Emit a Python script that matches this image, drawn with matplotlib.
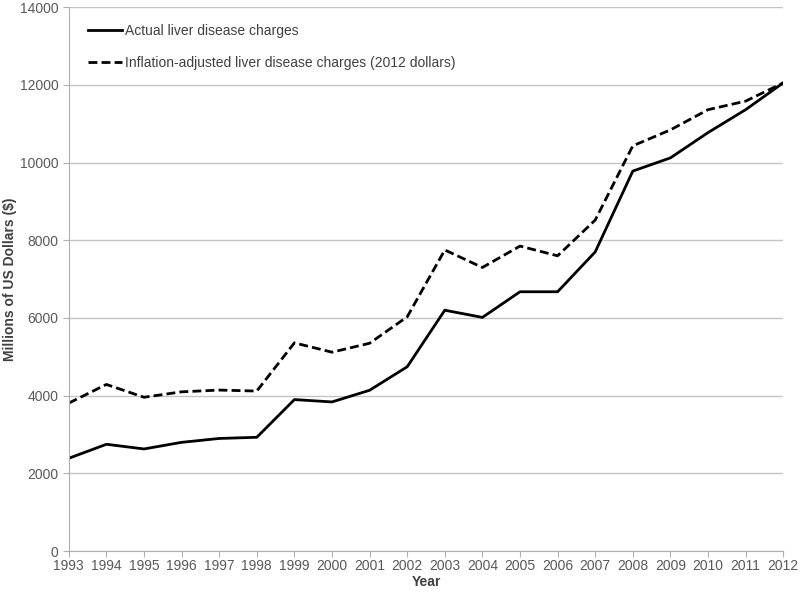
import matplotlib.pyplot as plt
import numpy as np

plt.rcParams['font.family'] = ['Liberation Sans', 'DejaVu Sans']

years = list(range(1993, 2013))

# millions of US dollars
actual = [2390, 2750, 2630, 2800, 2900, 2930, 3900, 3840, 4140, 4745,
          6200, 6015, 6675, 6675, 7700, 9780, 10120, 10770, 11360, 12050]

adjusted = [3810, 4290, 3960, 4100, 4145, 4120, 5360, 5120, 5350, 6030,
            7750, 7300, 7850, 7600, 8520, 10430, 10840, 11360, 11580, 12050]

fig = plt.figure(figsize=(8, 5.92), dpi=100)
ax = fig.add_axes([0.086, 0.069, 0.893, 0.919])

ax.plot(years, actual, color='black', lw=2.0, label='Actual liver disease charges')
ax.plot(years, adjusted, color='black', lw=2.0, dashes=(3.2, 1.5),
        label='Inflation-adjusted liver disease charges (2012 dollars)')

ax.set_xlim(1993, 2012)
ax.set_ylim(0, 14000)
ax.set_xticks(years)
ax.set_yticks(np.arange(0, 14001, 2000))

ax.grid(True, axis='y', color='#c4c4c4', lw=1)
ax.set_axisbelow(True)
for s in ['top', 'right']:
    ax.spines[s].set_visible(False)
for s in ['left', 'bottom']:
    ax.spines[s].set_color('#b0b0b0')
ax.tick_params(colors='#b0b0b0', labelcolor='#595959', labelsize=10, length=4)
ax.tick_params(axis='x', pad=2)

ax.set_xlabel('Year', fontsize=10, fontweight='bold', color='#404040', labelpad=1)
ax.set_ylabel('Millions of US Dollars ($)', fontsize=10, fontweight='bold',
              color='#404040', labelpad=2)

leg = ax.legend(loc='upper left', frameon=False, fontsize=10, handlelength=2.4,
                handletextpad=0.2, labelspacing=1.3, bbox_to_anchor=(0.01, 0.992))
for t in leg.get_texts():
    t.set_color('#404040')

plt.savefig('out.png', dpi=100)
